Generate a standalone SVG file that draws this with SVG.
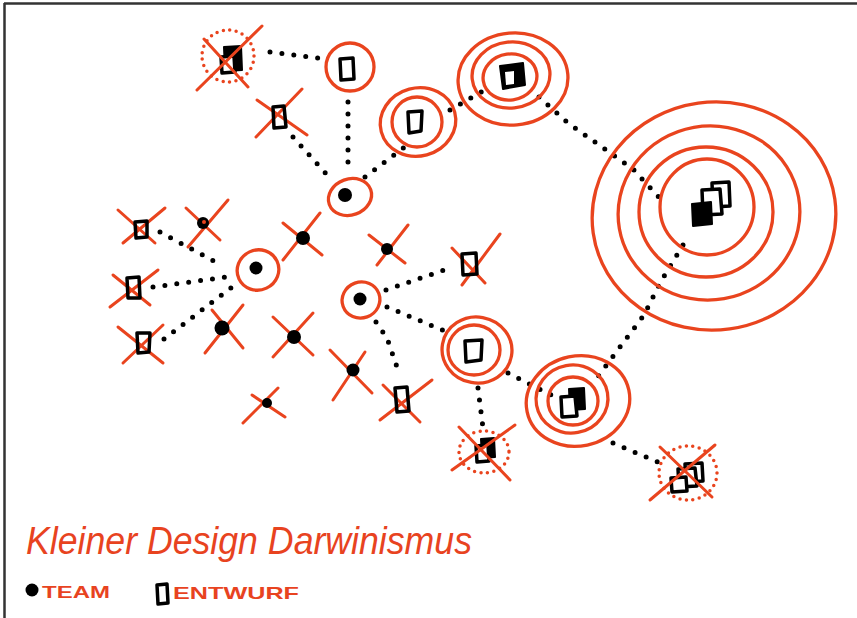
<svg xmlns="http://www.w3.org/2000/svg" width="857" height="618" viewBox="0 0 857 618">
<style>
.o{fill:none;stroke:#e9441e;stroke-width:3.3;stroke-linecap:round}
.od{fill:none;stroke:#e9441e;stroke-width:3.5;stroke-linecap:round;stroke-dasharray:0 6.5}
.x{fill:none;stroke:#e9441e;stroke-width:3;stroke-linecap:round}
.d{fill:none;stroke:#000;stroke-width:3.5;stroke-linejoin:round}
.dw{fill:#fff;stroke:#000;stroke-width:3.5;stroke-linejoin:round}
.df{fill:#000;stroke:#000;stroke-width:2;stroke-linejoin:round}
.c{fill:none;stroke:#000;stroke-width:5;stroke-linecap:round;stroke-linejoin:round;stroke-dasharray:0 12}
.lbl{fill:#e8431f;font-family:"Liberation Sans",Arial,sans-serif}
</style>
<rect width="857" height="618" fill="#fff"/>
<path d="M4,3.5H857M4.5,3V618" stroke="#333" stroke-width="2.5" fill="none"/>

<g id="connectors">
<path class="c" d="M270,52L318,58"/>
<path class="c" d="M348,102L348,168"/>
<path class="c" d="M293,137L330,178"/>
<path class="c" d="M365,177L410,143"/>
<path class="c" d="M450,110L483,91"/>
<path class="c" d="M539,97L568,123L633,169L665,204"/>
<path class="c" d="M683,245L660,283L644,315L614,355L597,378"/>
<path class="c" d="M508,373L551,395"/>
<path class="c" d="M478,388L483,428"/>
<path class="c" d="M613,443L660,463"/>
<path class="c" d="M386,290L447,269"/>
<path class="c" d="M387,307L447,332"/>
<path class="c" d="M376,322L387,338L398,370"/>
<path class="c" d="M160,232L223,266"/>
<path class="c" d="M153,287L227,277"/>
<path class="c" d="M164,339L198,313L231,288"/>
</g>

<g id="n1">
<ellipse class="od" cx="228" cy="56" rx="26" ry="26"/>
<path class="df" d="M224,47L241,46L242,70L225,71Z"/>
<path class="dw" d="M221,57L234,56L235,72L222,73Z"/>
<path class="x" d="M197,90L262,26M204,39L248,87"/>
</g>
<g id="n2">
<ellipse class="o" cx="350" cy="67" rx="24" ry="24"/>
<path class="d" d="M340,59L353,58L354,79L341,80Z"/>
</g>
<g id="n3">
<path class="x" d="M256,137L302,89M257,100L307,135"/>
<path class="d" d="M273,107L284,106L286,127L274,128Z"/>
</g>
<g id="n4">
<ellipse class="o" cx="417" cy="122" rx="25" ry="25"/>
<ellipse class="o" cx="418" cy="122" rx="38" ry="34" transform="rotate(-15 418 122)"/>
<path class="d" d="M408,112L422,111L421,131L409,133Z"/>
</g>
<g id="n5">
<ellipse class="o" cx="510" cy="77" rx="27" ry="23" transform="rotate(-8 510 77)"/>
<ellipse class="o" cx="511" cy="75" rx="39" ry="33" transform="rotate(-6 511 75)"/>
<ellipse class="o" cx="513" cy="79" rx="55" ry="46" transform="rotate(-5 513 79)"/>
<path class="df" d="M500,66L523,63L525,85L503,89Z"/>
<path fill="#fff" d="M505,72L514,71L514,84L506,85Z"/>
</g>
<g id="n6">
<ellipse class="o" cx="707" cy="207" rx="47" ry="48"/>
<ellipse class="o" cx="706" cy="212" rx="67" ry="65"/>
<ellipse class="o" cx="709" cy="213" rx="91" ry="87" transform="rotate(-10 709 213)"/>
<ellipse class="o" cx="714" cy="216" rx="122" ry="114" transform="rotate(-8 714 216)"/>
<path class="dw" d="M712,183L729,182L730,206L713,207Z"/>
<path class="dw" d="M702,190L720,189L722,214L703,215Z"/>
<path class="df" d="M692,204L711,202L712,224L693,226Z"/>
</g>
<g id="n7">
<ellipse class="o" cx="350" cy="197" rx="22" ry="18" transform="rotate(-20 350 197)"/>
<circle cx="345" cy="195" r="7"/>
</g>
<g id="n8">
<ellipse class="o" cx="258" cy="270" rx="21" ry="20" transform="rotate(-25 258 270)"/>
<circle cx="256" cy="268" r="6.5"/>
</g>
<g id="n9">
<ellipse class="o" cx="361" cy="300" rx="19" ry="18" transform="rotate(-20 361 300)"/>
<circle cx="360" cy="299" r="6.5"/>
</g>
<g id="n10">
<ellipse class="o" cx="474" cy="350" rx="26" ry="25"/>
<ellipse class="o" cx="477" cy="350" rx="35" ry="33" transform="rotate(10 477 350)"/>
<path class="d" d="M465,341L482,340L481,360L466,362Z"/>
</g>
<g id="n11">
<ellipse class="o" cx="573" cy="401" rx="25" ry="24"/>
<ellipse class="o" cx="572" cy="399" rx="36" ry="34" transform="rotate(-10 572 399)"/>
<ellipse class="o" cx="578" cy="401" rx="52" ry="45" transform="rotate(-12 578 401)"/>
<path class="df" d="M569,389L584,388L585,409L570,410Z"/>
<path class="dw" d="M561,397L575,396L577,416L562,417Z"/>
</g>
<g id="n12">
<ellipse class="od" cx="484" cy="452" rx="25" ry="21"/>
<path class="df" d="M481,439L494,438L495,457L482,458Z"/>
<path class="dw" d="M476,446L488,445L489,461L477,462Z"/>
<path class="x" d="M452,470L515,425M459,427L510,480"/>
</g>
<g id="n13">
<ellipse class="od" cx="688" cy="473" rx="29" ry="27"/>
<path class="dw" d="M685,464L702,463L703,481L686,482Z"/>
<path class="dw" d="M678,469L695,468L697,486L679,487Z"/>
<path class="dw" d="M671,478L686,477L687,491L672,492Z"/>
<path class="x" d="M650,500L715,445M660,447L712,497"/>
</g>

<g id="t1">
<path class="x" d="M186,208L220,240M228,200L188,247"/>
<circle cx="203" cy="223" r="6"/>
<circle cx="204" cy="222" r="2" fill="#e9441e"/>
</g>
<g id="t2">
<path class="x" d="M283,223L322,255M320,213L283,260"/>
<circle cx="303" cy="238" r="7"/>
</g>
<g id="t3">
<path class="x" d="M369,235L405,263M408,225L377,265"/>
<circle cx="387" cy="249" r="6"/>
</g>
<g id="t4">
<path class="x" d="M205,353L243,305M212,310L243,348"/>
<circle cx="222" cy="328" r="7.5"/>
</g>
<g id="t5">
<path class="x" d="M273,317L313,355M313,313L273,357"/>
<circle cx="294" cy="337" r="7"/>
</g>
<g id="t6">
<path class="x" d="M330,350L372,393M365,352L333,400"/>
<circle cx="353" cy="370" r="6.5"/>
</g>
<g id="t7">
<path class="x" d="M252,395L285,417M278,388L243,423"/>
<circle cx="267" cy="403" r="5"/>
</g>

<g id="d1">
<path class="x" d="M118,210L155,243M165,208L123,243"/>
<path class="d" d="M135,222L147,221L147,237L136,238Z"/>
</g>
<g id="d2">
<path class="x" d="M110,307L158,270M113,275L150,305"/>
<path class="d" d="M127,278L139,277L140,298L128,298Z"/>
</g>
<g id="d3">
<path class="x" d="M118,327L163,363M123,363L163,325"/>
<path class="d" d="M137,333L150,333L149,352L138,353Z"/>
</g>
<g id="d4">
<path class="x" d="M452,248L485,283M500,234L462,285"/>
<path class="d" d="M462,254L476,253L477,274L463,275Z"/>
</g>
<g id="d5">
<path class="x" d="M380,420L432,380M383,385L420,422"/>
<path class="d" d="M395,388L407,387L409,411L397,412Z"/>
</g>

<g id="title">
<text class="lbl" x="26" y="554" font-size="38" font-style="italic" textLength="446" lengthAdjust="spacingAndGlyphs">Kleiner Design Darwinismus</text>
</g>
<g id="legend">
<circle cx="32" cy="590" r="6.5"/>
<text class="lbl" x="42" y="598" font-size="17" font-weight="bold" textLength="68" lengthAdjust="spacingAndGlyphs">TEAM</text>
<path class="d" d="M157,585L167,584L168,603L158,604Z" stroke-width="4"/>
<text class="lbl" x="173" y="599" font-size="17" font-weight="bold" textLength="126" lengthAdjust="spacingAndGlyphs">ENTWURF</text>
</g>
</svg>
